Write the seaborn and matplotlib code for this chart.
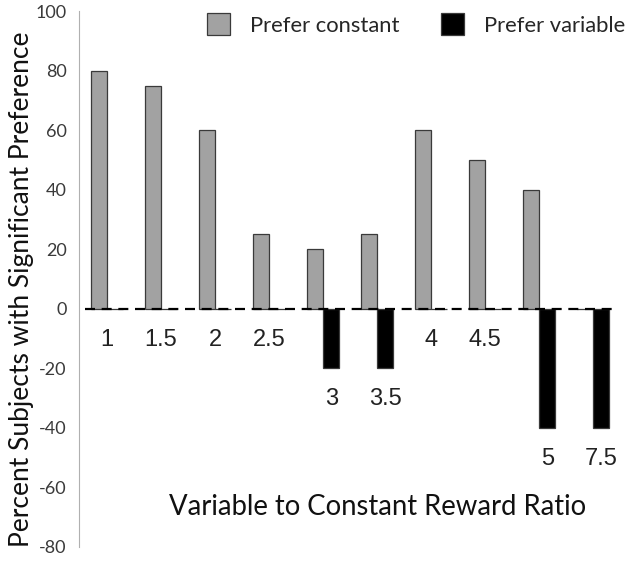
import pandas as pd
import matplotlib.pyplot as plt
import seaborn as sns
from matplotlib.patches import Patch

# Data
ratios = ['1', '1.5', '2', '2.5', '3', '3.5', '4', '4.5', '5', '7.5']
prefer_constant = [80, 75, 60, 25, 20, 25, 60, 50, 40, 0]
prefer_variable = [0, 0, 0, 0, -20, -20, 0, 0, -40, -40]
series_names = ['Prefer constant', 'Prefer variable']
colors = {'Prefer constant': '#a2a2a2', 'Prefer variable': '#000000'}

df = pd.DataFrame({
    'ratio': ratios * 2,
    'value': prefer_constant + prefer_variable,
    'pref': [series_names[0]] * len(ratios) + [series_names[1]] * len(ratios),
})

sns.set_style('white')
plt.rcParams['axes.unicode_minus'] = False
label_font = ['Lato', 'DejaVu Sans']
num_font = ['Liberation Sans', 'DejaVu Sans']

fig, ax = plt.subplots(figsize=(6.32, 5.63), dpi=100)
fig.subplots_adjust(left=0.125, right=0.989, top=0.980, bottom=0.029)

sns.barplot(data=df, x='ratio', y='value', hue='pref', order=ratios,
            hue_order=series_names, palette=colors, width=0.59,
            edgecolor='#3a3a3a', linewidth=0.9, saturation=1,
            legend=False, ax=ax)

ax.set_ylim(-80, 100)
ax.set_xlim(-0.52, 9.59)
ax.set_yticks(range(-80, 101, 20))
ax.set_xticks([])
for side in ['top', 'right', 'bottom']:
    ax.spines[side].set_visible(False)
ax.spines['left'].set_color('#b0b0b0')
ax.spines['left'].set_linewidth(0.8)
ax.tick_params(axis='y', direction='out', length=5, width=0.8, color='#b0b0b0',
               labelsize=13, labelcolor='#3a3a3a', pad=4)
for t in ax.get_yticklabels():
    t.set_fontfamily(label_font)

# dashed zero line
ax.axhline(0, xmin=0.011, xmax=0.976, color='black', lw=1.6,
           ls=(0, (4.5, 3)), zorder=3)

# category labels beneath each group
for i, (lab, v) in enumerate(zip(ratios, prefer_variable)):
    if v < 0:
        ax.text(i + 0.15, v - 10.5, lab, ha='center', va='center',
                fontsize=17, color='#222222', family=num_font)
    else:
        ax.text(i, -10.5, lab, ha='center', va='center',
                fontsize=17, color='#222222', family=num_font)

ax.set_ylabel('Percent Subjects with Significant Preference', fontsize=19,
              family=label_font, color='#111111')
ax.yaxis.set_label_coords(-0.083, 0.48)
ax.set_xlabel('Variable to Constant Reward Ratio', fontsize=19.8,
              family=label_font, color='#111111', va='center')
ax.xaxis.set_label_coords(0.546, 0.075)

handles = [Patch(facecolor=colors[n], edgecolor='#3a3a3a', linewidth=0.9)
           for n in series_names]
ax.legend(handles, series_names, loc='upper left', bbox_to_anchor=(0.234, 0.996),
          ncol=2, frameon=False, prop={'family': label_font, 'size': 15.8},
          handlelength=1.05, handleheight=1.15, handletextpad=0.9,
          columnspacing=1.9, borderpad=0, borderaxespad=0)

fig.savefig('out.png', dpi=100)
